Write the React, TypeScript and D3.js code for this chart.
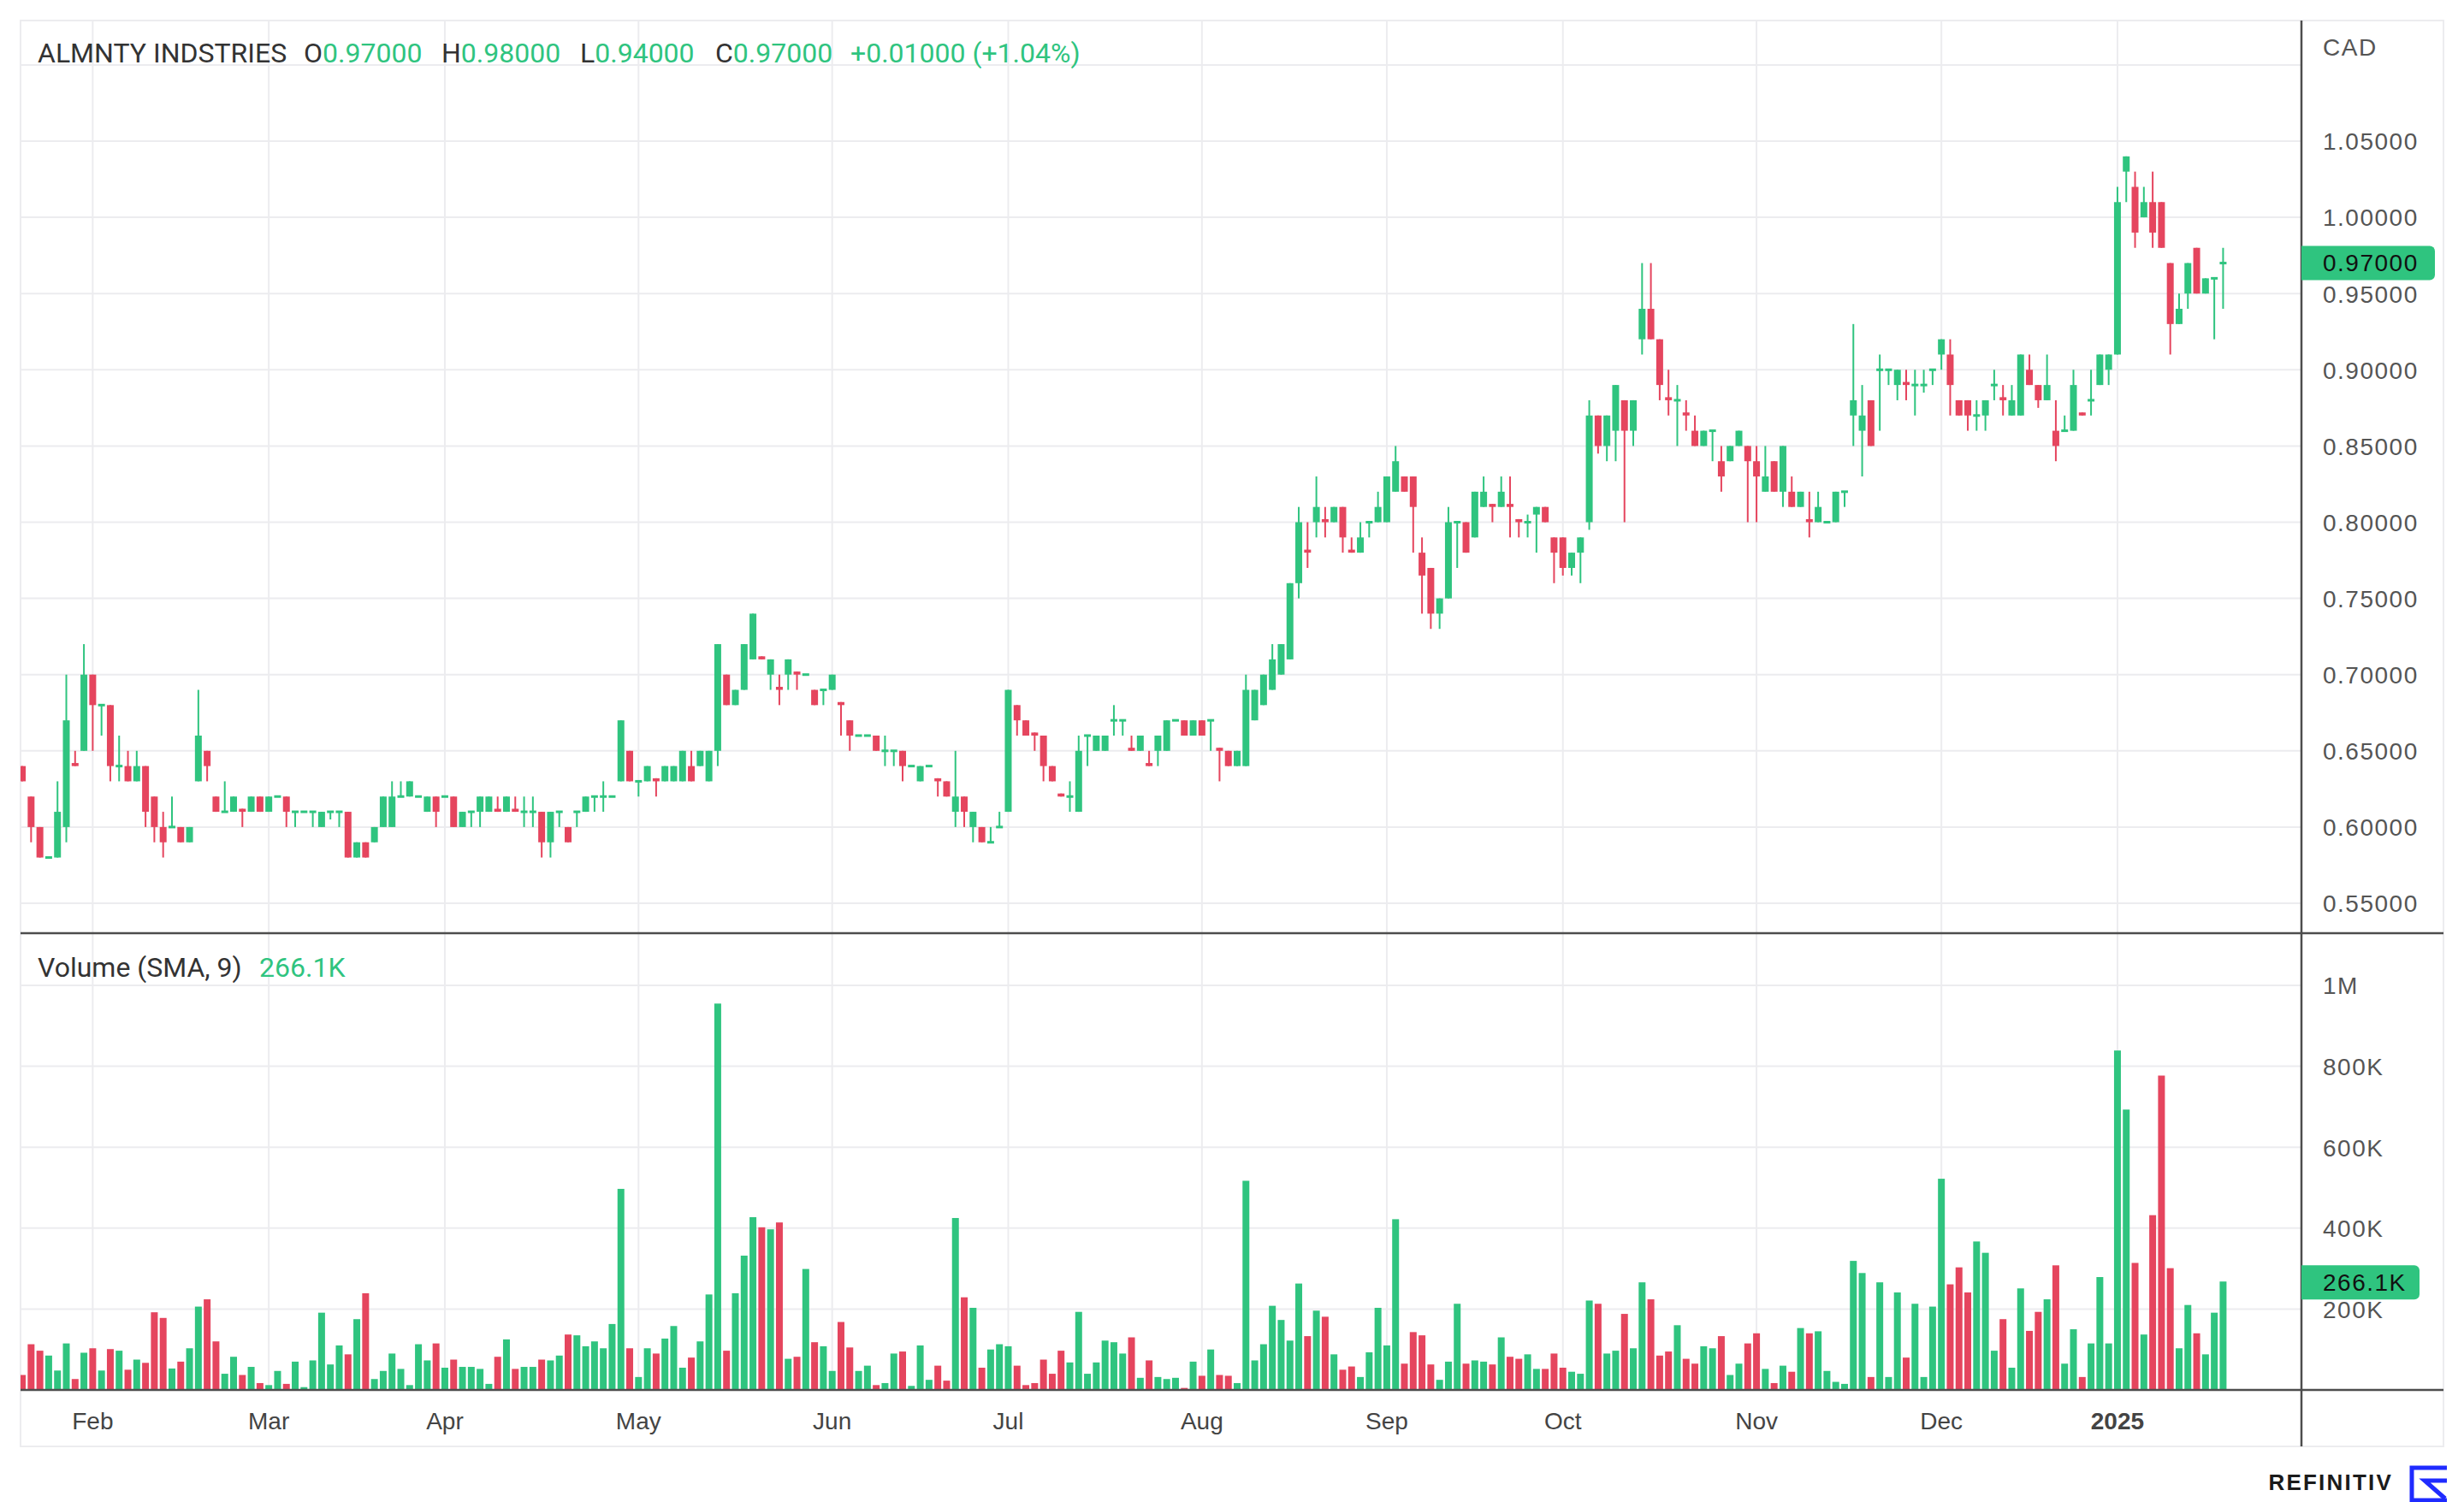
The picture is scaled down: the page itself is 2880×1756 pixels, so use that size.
import React from 'react'
import * as d3 from 'd3'

// ---- data ----
const symbol = 'ALMNTY INDSTRIES'
const currency = 'CAD'
const firstDay = '2024-01-22'
const lastDay = '2025-01-20'
const holidays = ['2024-02-19', '2024-03-29', '2024-05-20', '2024-07-01', '2024-08-05', '2024-09-02',
  '2024-10-14', '2024-12-25', '2024-12-26', '2025-01-01']
const monthNames = ['Jan', 'Feb', 'Mar', 'Apr', 'May', 'Jun', 'Jul', 'Aug', 'Sep', 'Oct', 'Nov', 'Dec']

const opens = [
  .64, .62, .60, .58, .58, .60, .642, .65, .70, .68, .68, .64, .64, .63, .64, .62, .60, .60, .60, .59,
  .63, .65, .62, .61, .61, .612, .61, .62, .61, .62, .62, .61, .61, .61, .60, .61, .61, .61, .58, .59,
  .59, .60, .60, .62, .62, .62, .61, .62, .62, .62, .60, .61, .61, .61, .612, .61, .612, .61, .61, .61,
  .59, .61, .60, .61, .61, .62, .62, .62, .63, .65, .63, .63, .632, .63, .63, .63, .64, .64, .63, .65,
  .70, .68, .69, .71, .712, .70, .692, .70, .702, .70, .69, .69, .69, .682, .67, .66, .66, .66, .65, .65,
  .65, .64, .63, .64, .632, .63, .61, .62, .60, .60, .59, .60, .61, .68, .67, .662, .66, .64, .622, .62,
  .61, .66, .65, .65, .67, .67, .652, .65, .642, .65, .65, .67, .67, .66, .67, .67, .652, .65, .64, .64,
  .67, .68, .69, .70, .71, .76, .782, .80, .802, .80, .81, .782, .78, .80, .80, .80, .82, .83, .83, .78,
  .77, .74, .75, .80, .80, .79, .81, .812, .81, .812, .802, .80, .805, .81, .79, .79, .77, .78, .80, .87,
  .85, .86, .88, .86, .92, .94, .92, .882, .88, .872, .86, .85, .86, .84, .84, .85, .85, .84, .82, .84,
  .82, .82, .81, .802, .80, .80, .80, .82, .87, .86, .88, .90, .90, .89, .892, .89, .89, .90, .91, .91,
  .88, .88, .87, .87, .89, .882, .87, .87, .90, .89, .88, .86, .86, .86, .872, .88, .89, .90, .91, 1.03,
  1.02, 1.00, 1.01, 1.01, .97, .93, .95, .98, .95, .96, .97,
]
const highs = [
  .64, .62, .60, .58, .63, .70, .65, .72, .70, .68, .68, .66, .65, .65, .64, .62, .61, .62, .60, .60,
  .69, .65, .62, .63, .62, .612, .62, .62, .62, .62, .62, .61, .61, .61, .61, .61, .61, .61, .59, .59,
  .60, .62, .63, .63, .63, .62, .62, .62, .62, .62, .61, .61, .62, .62, .62, .62, .62, .62, .62, .61,
  .61, .61, .60, .61, .62, .62, .63, .62, .67, .65, .63, .64, .632, .64, .64, .65, .65, .65, .65, .72,
  .70, .69, .72, .74, .712, .71, .70, .71, .702, .70, .69, .69, .70, .682, .67, .66, .66, .66, .66, .65,
  .65, .64, .64, .64, .632, .63, .65, .62, .61, .60, .60, .61, .69, .68, .67, .662, .66, .64, .622, .63,
  .66, .66, .66, .66, .68, .67, .66, .66, .65, .66, .67, .67, .67, .67, .67, .67, .652, .65, .65, .70,
  .69, .70, .72, .72, .76, .81, .80, .83, .81, .81, .81, .79, .80, .80, .82, .83, .85, .83, .83, .79,
  .77, .75, .81, .80, .80, .82, .83, .812, .83, .83, .802, .805, .81, .81, .79, .79, .78, .79, .88, .87,
  .87, .89, .88, .88, .97, .97, .92, .90, .89, .88, .87, .86, .86, .85, .85, .86, .85, .85, .85, .84,
  .85, .83, .82, .82, .82, .80, .82, .82, .93, .89, .88, .91, .90, .90, .90, .90, .90, .90, .92, .92,
  .88, .88, .88, .88, .90, .89, .89, .91, .91, .89, .91, .88, .87, .90, .872, .90, .91, .91, 1.02, 1.04,
  1.03, 1.02, 1.03, 1.01, .97, .95, .97, .98, .96, .96, .98,
]
const lows = [
  .63, .59, .58, .58, .58, .59, .64, .65, .65, .66, .63, .63, .63, .63, .60, .59, .58, .60, .59, .59,
  .63, .63, .61, .61, .61, .60, .61, .61, .61, .62, .60, .60, .61, .60, .60, .605, .60, .58, .58, .58,
  .59, .60, .60, .62, .62, .62, .61, .60, .62, .60, .60, .60, .60, .61, .61, .61, .61, .60, .60, .58,
  .58, .60, .59, .60, .61, .61, .61, .62, .63, .63, .62, .63, .62, .63, .63, .63, .63, .64, .63, .64,
  .68, .68, .69, .71, .71, .69, .68, .69, .69, .70, .68, .68, .69, .66, .65, .66, .66, .65, .64, .64,
  .63, .64, .63, .64, .62, .62, .60, .60, .59, .59, .59, .60, .61, .66, .66, .65, .63, .63, .62, .61,
  .61, .64, .65, .65, .66, .66, .65, .65, .64, .64, .65, .67, .66, .66, .66, .65, .63, .64, .64, .64,
  .67, .68, .69, .70, .71, .75, .77, .79, .79, .80, .78, .78, .78, .79, .80, .80, .82, .82, .78, .74,
  .73, .73, .75, .77, .78, .79, .81, .80, .81, .79, .79, .79, .78, .80, .76, .765, .765, .76, .795, .845,
  .84, .84, .80, .85, .91, .92, .88, .87, .85, .86, .85, .85, .84, .82, .84, .85, .80, .80, .82, .82,
  .81, .81, .81, .79, .80, .80, .80, .81, .85, .83, .85, .86, .89, .88, .88, .87, .885, .89, .90, .87,
  .87, .86, .86, .86, .88, .87, .87, .87, .89, .875, .88, .84, .86, .86, .87, .87, .89, .89, .91, 1.01,
  .98, 1.00, .98, .98, .91, .93, .94, .95, .95, .92, .94,
]
const closes = [
  .63, .60, .58, .58, .61, .67, .64, .70, .68, .68, .64, .64, .63, .64, .61, .60, .59, .60, .59, .60,
  .66, .64, .61, .61, .62, .61, .62, .61, .62, .62, .61, .61, .61, .61, .61, .61, .61, .58, .59, .58,
  .60, .62, .62, .62, .63, .62, .62, .61, .62, .60, .61, .61, .62, .62, .61, .62, .61, .61, .61, .59,
  .61, .61, .59, .61, .62, .62, .62, .62, .67, .63, .63, .64, .63, .64, .64, .65, .63, .65, .65, .72,
  .68, .69, .72, .74, .71, .71, .69, .71, .70, .70, .68, .69, .70, .68, .66, .66, .66, .65, .65, .65,
  .64, .64, .64, .64, .63, .62, .62, .61, .61, .59, .59, .60, .69, .67, .66, .66, .64, .63, .62, .62,
  .65, .66, .66, .66, .67, .67, .65, .66, .64, .66, .67, .67, .66, .67, .66, .67, .65, .64, .65, .69,
  .69, .70, .71, .72, .76, .80, .78, .81, .80, .81, .79, .78, .79, .80, .81, .83, .84, .82, .81, .765,
  .74, .75, .80, .80, .78, .82, .82, .81, .82, .81, .80, .80, .81, .80, .78, .77, .78, .79, .87, .85,
  .87, .89, .86, .88, .94, .92, .89, .88, .88, .87, .85, .86, .86, .83, .85, .86, .84, .83, .83, .82,
  .85, .81, .82, .80, .81, .80, .82, .82, .88, .87, .85, .90, .90, .90, .89, .89, .89, .90, .92, .89,
  .87, .87, .87, .88, .89, .88, .88, .91, .89, .88, .89, .85, .86, .89, .87, .88, .91, .91, 1.01, 1.04,
  .99, 1.01, .99, .98, .93, .94, .97, .95, .96, .96, .97,
]
// daily volume, thousands of shares
const volumesK = [
  37, 113, 97, 85, 48, 115, 27, 92, 103, 48, 101, 97, 50, 75, 67, 192, 178, 53, 70, 103,
  206, 224, 120, 40, 82, 37, 57, 17, 12, 47, 15, 70, 7, 73, 191, 63, 110, 88, 175, 239,
  27, 47, 90, 52, 12, 113, 73, 115, 55, 75, 57, 57, 52, 15, 82, 125, 52, 57, 57, 75,
  73, 85, 137, 135, 108, 120, 103, 163, 497, 103, 32, 103, 90, 127, 158, 55, 80, 120, 236, 955,
  97, 239, 332, 427, 402, 397, 414, 77, 82, 299, 118, 108, 47, 168, 105, 47, 60, 12, 17, 90,
  95, 10, 110, 25, 60, 23, 425, 229, 203, 55, 100, 113, 108, 60, 12, 17, 75, 40, 97, 68,
  193, 40, 68, 122, 118, 90, 130, 30, 73, 32, 27, 30, 5, 70, 35, 100, 37, 35, 17, 517,
  73, 113, 208, 173, 122, 263, 133, 196, 181, 88, 50, 58, 32, 93, 203, 110, 422, 65, 143, 135,
  63, 25, 70, 213, 65, 73, 70, 63, 130, 82, 77, 88, 52, 52, 90, 55, 45, 40, 221, 213,
  90, 97, 188, 103, 266, 224, 85, 95, 160, 77, 65, 108, 103, 133, 37, 65, 115, 140, 52, 17,
  60, 45, 153, 140, 145, 47, 20, 15, 319, 289, 32, 266, 32, 241, 80, 213, 32, 206, 522, 261,
  303, 241, 367, 339, 97, 175, 55, 251, 146, 193, 224, 308, 65, 150, 32, 115, 279, 115, 839, 693,
  314, 137, 432, 777, 301, 103, 210, 140, 88, 191, 268,
]
const priceTicks = [0.55, 0.6, 0.65, 0.7, 0.75, 0.8, 0.85, 0.9, 0.95, 1.0, 1.05]
const priceGridExtra = [1.1]
const volumeTicks = [200000, 400000, 600000, 800000, 1000000]
const volumeTickLabels = ['200K', '400K', '600K', '800K', '1M']
const lastSma = 266100
const lastSmaLabel = '266.1K'

// ---- layout ----
const W = 2880
const H = 1756
const left = 24
const axisX = 2690
const right = 2856
const top = 24
const priceBottom = 1091
const volBottom = 1625
const frameBottom = 1691

const GREEN = '#2fc47f'
const RED = '#e5455e'
const GRID = '#ececef'
const DARK = '#4d4d4d'
const AXIS_FONT = '"Liberation Sans", Arial, sans-serif'
const HEAD_FONT = 'Roboto, "Noto Sans", sans-serif'
const LBL_DY = 3 // axis labels sit a touch below the gridline

function tradingDays(start, end, skip) {
  const out: Date[] = []
  const d = new Date(start + 'T00:00:00Z')
  const e = new Date(end + 'T00:00:00Z')
  while (d <= e) {
    const wd = d.getUTCDay()
    const iso = d.toISOString().slice(0, 10)
    if (wd !== 0 && wd !== 6 && !skip.includes(iso)) out.push(new Date(d))
    d.setUTCDate(d.getUTCDate() + 1)
  }
  return out
}

function fmt5(v) {
  return v.toFixed(5)
}

export default function App() {
  const dates = tradingDays(firstDay, lastDay, holidays)
  const n = opens.length

  const x = d3.scaleLinear().domain([-0.2, n + 7.9]).range([left, axisX])
  const y = d3.scaleLinear().domain([0.55, 1.05]).range([1056, 165])
  const yv = d3.scaleLinear().domain([0, 1000000]).range([volBottom, 1152])

  const monthTicks = dates
    .map((d, i) => ({ d, i }))
    .filter(({ d, i }) => i > 0 && d.getUTCMonth() !== dates[i - 1].getUTCMonth())
    .map(({ d, i }) => ({
      i,
      label: d.getUTCMonth() === 0 ? String(d.getUTCFullYear()) : monthNames[d.getUTCMonth()],
      bold: d.getUTCMonth() === 0,
    }))

  const candles = d3.range(n).map(i => {
    const up = closes[i] >= opens[i]
    return { i, o: opens[i], h: highs[i], l: lows[i], c: closes[i], v: volumesK[i] * 1000, up }
  })

  const bodyW = 8
  const last = candles[n - 1]
  const change = last.c - closes[n - 2]
  const changePct = (change / closes[n - 2]) * 100

  return (
    <svg width={W} height={H} viewBox={`0 0 ${W} ${H}`}
      style={{ position: 'absolute', left: 0, top: 0, background: '#fff' }}>
      <defs>
        <clipPath id="pricePane"><rect x={left} y={top} width={axisX - left} height={priceBottom - top} /></clipPath>
        <clipPath id="volPane"><rect x={left} y={priceBottom} width={axisX - left} height={volBottom - priceBottom} /></clipPath>
      </defs>

      {/* frame */}
      <rect x={left} y={top} width={right - left} height={frameBottom - top} fill="none" stroke={GRID} strokeWidth={2} />

      {/* grid */}
      {monthTicks.map(t => (
        <line key={'vg' + t.i} x1={x(t.i)} x2={x(t.i)} y1={top} y2={volBottom} stroke={GRID} strokeWidth={2} />
      ))}
      {priceTicks.concat(priceGridExtra).map(p => (
        <line key={'pg' + p} x1={left} x2={axisX} y1={y(p)} y2={y(p)} stroke={GRID} strokeWidth={2} />
      ))}
      {volumeTicks.map(v => (
        <line key={'vg2' + v} x1={left} x2={axisX} y1={yv(v)} y2={yv(v)} stroke={GRID} strokeWidth={2} />
      ))}

      {/* candles */}
      <g clipPath="url(#pricePane)">
        {candles.map(d => {
          const col = d.up ? GREEN : RED
          const yTop = y(Math.max(d.o, d.c))
          const yBot = y(Math.min(d.o, d.c))
          const bh = Math.max(yBot - yTop, 3)
          return (
            <g key={'c' + d.i}>
              <line x1={x(d.i)} x2={x(d.i)} y1={y(d.h)} y2={y(d.l)} stroke={col} strokeWidth={2} />
              <rect x={x(d.i) - bodyW / 2} y={bh === 3 ? (yTop + yBot) / 2 - 1.5 : yTop} width={bodyW} height={bh} fill={col} />
            </g>
          )
        })}
      </g>

      {/* volume */}
      <g clipPath="url(#volPane)">
        {candles.map(d => (
          <rect key={'v' + d.i} x={x(d.i) - bodyW / 2} y={yv(d.v)} width={bodyW} height={volBottom - yv(d.v)}
            fill={d.up ? GREEN : RED} />
        ))}
      </g>

      {/* pane separators */}
      <line x1={left} x2={right} y1={priceBottom} y2={priceBottom} stroke={DARK} strokeWidth={2.5} />
      <line x1={left} x2={right} y1={volBottom} y2={volBottom} stroke={DARK} strokeWidth={2.5} />
      <line x1={axisX} x2={axisX} y1={top} y2={frameBottom} stroke={DARK} strokeWidth={2.5} />

      {/* header */}
      <text y={73} fontFamily={HEAD_FONT} fontSize={32} fill="#333">
        <tspan x={44}>{symbol}</tspan>
        <tspan x={355}>O</tspan><tspan fill={GREEN}>{fmt5(last.o)}</tspan>
        <tspan x={516}>H</tspan><tspan fill={GREEN}>{fmt5(last.h)}</tspan>
        <tspan x={678}>L</tspan><tspan fill={GREEN}>{fmt5(last.l)}</tspan>
        <tspan x={836}>C</tspan><tspan fill={GREEN}>{fmt5(last.c)}</tspan>
        <tspan x={994} fill={GREEN}>{(change >= 0 ? '+' : '') + fmt5(change) + ' (' + (changePct >= 0 ? '+' : '') + changePct.toFixed(2) + '%)'}</tspan>
      </text>
      <text y={1142} fontFamily={HEAD_FONT} fontSize={32} fill="#333">
        <tspan x={44}>Volume (SMA, 9)</tspan>
        <tspan x={303} fill={GREEN}>{lastSmaLabel}</tspan>
      </text>

      {/* right axis */}
      <text x={2715} y={58} fontFamily={AXIS_FONT} fontSize={28} letterSpacing={1.5} fill="#555" dominantBaseline="middle">{currency}</text>
      {priceTicks.map(p => (
        <text key={'pl' + p} x={2715} y={y(p) + LBL_DY} fontFamily={AXIS_FONT} fontSize={28} letterSpacing={1.5} fill="#555"
          dominantBaseline="middle">{fmt5(p)}</text>
      ))}
      {volumeTicks.map((v, k) => (
        <text key={'vl' + v} x={2715} y={yv(v) + LBL_DY} fontFamily={AXIS_FONT} fontSize={28} letterSpacing={1.5} fill="#555"
          dominantBaseline="middle">{volumeTickLabels[k]}</text>
      ))}

      {/* last value badges */}
      <path d={`M${axisX},${y(last.c) - 20} H${2840} a6,6 0 0 1 6,6 V${y(last.c) + 14} a6,6 0 0 1 -6,6 H${axisX} Z`} fill={GREEN} />
      <text x={2715} y={y(last.c) + 2} fontFamily={AXIS_FONT} fontSize={28} letterSpacing={1.5} fill="#111" dominantBaseline="middle">{fmt5(last.c)}</text>
      <path d={`M${axisX},${yv(lastSma) - 20} H${2822} a6,6 0 0 1 6,6 V${yv(lastSma) + 14} a6,6 0 0 1 -6,6 H${axisX} Z`} fill={GREEN} />
      <text x={2715} y={yv(lastSma) + 2} fontFamily={AXIS_FONT} fontSize={28} letterSpacing={1.5} fill="#111" dominantBaseline="middle">{lastSmaLabel}</text>

      {/* time axis */}
      {monthTicks.map(t => (
        <text key={'ml' + t.i} x={x(t.i)} y={1664} textAnchor="middle" dominantBaseline="middle" fontFamily={AXIS_FONT}
          fontSize={28} fontWeight={t.bold ? 'bold' : 'normal'} fill="#444">{t.label}</text>
      ))}

      {/* logo */}
      <text x={2797} y={1735} textAnchor="end" dominantBaseline="middle" fontFamily={AXIS_FONT} fontSize={26}
        fontWeight="bold" letterSpacing={2.2} fill="#1b1b1b">REFINITIV</text>
      <g stroke="#1f2bff" strokeWidth={5} fill="none">
        <path d="M2860,1716 H2819 V1754 H2860" />
        <path d="M2860,1731 H2834 L2858,1752" />
      </g>
    </svg>
  )
}
